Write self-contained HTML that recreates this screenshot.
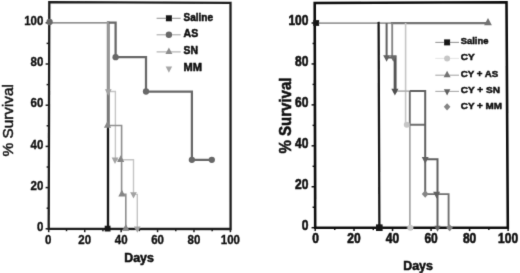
<!DOCTYPE html>
<html><head><meta charset="utf-8"><style>
html,body{margin:0;padding:0;background:#fff;}
body{width:520px;height:273px;overflow:hidden;}
svg{display:block;}
text{font-family:"Liberation Sans", sans-serif;font-weight:bold;fill:#0c0c0c;stroke:#0c0c0c;stroke-width:0.5px;paint-order:stroke;}
text.ns{font-weight:normal;stroke-width:0.45px;}
text.lt{stroke-width:0.3px;}
</style></head><body>
<svg width="520" height="273" viewBox="0 0 520 273">
<defs><filter id="bl" x="0" y="0" width="520" height="273" filterUnits="userSpaceOnUse"><feConvolveMatrix order="3" kernelMatrix="0.01134 0.08382 0.01134 0.08382 0.61935 0.08382 0.01134 0.08382 0.01134" edgeMode="none"/></filter></defs>
<rect width="520" height="273" fill="#fff"/>
<g filter="url(#bl)">
<path d="M49.3,2.2 L230.5,2.9 L230.6,229.0 L48.7,228.9 Z" fill="none" stroke="#1c1c1c" stroke-width="2.3" stroke-linejoin="miter"/>
<line x1="48.70" y1="228.8" x2="48.70" y2="232.20" stroke="#1c1c1c" stroke-width="1.5"/>
<line x1="66.51" y1="228.8" x2="66.51" y2="231.20" stroke="#1c1c1c" stroke-width="1.5"/>
<line x1="84.72" y1="228.8" x2="84.72" y2="232.20" stroke="#1c1c1c" stroke-width="1.5"/>
<line x1="102.93" y1="228.8" x2="102.93" y2="231.20" stroke="#1c1c1c" stroke-width="1.5"/>
<line x1="121.14" y1="228.8" x2="121.14" y2="232.20" stroke="#1c1c1c" stroke-width="1.5"/>
<line x1="139.35" y1="228.8" x2="139.35" y2="231.20" stroke="#1c1c1c" stroke-width="1.5"/>
<line x1="157.56" y1="228.8" x2="157.56" y2="232.20" stroke="#1c1c1c" stroke-width="1.5"/>
<line x1="175.77" y1="228.8" x2="175.77" y2="231.20" stroke="#1c1c1c" stroke-width="1.5"/>
<line x1="193.98" y1="228.8" x2="193.98" y2="232.20" stroke="#1c1c1c" stroke-width="1.5"/>
<line x1="212.19" y1="228.8" x2="212.19" y2="231.20" stroke="#1c1c1c" stroke-width="1.5"/>
<line x1="230.40" y1="228.8" x2="230.40" y2="232.20" stroke="#1c1c1c" stroke-width="1.5"/>
<line x1="49.0" y1="228.80" x2="45.60" y2="228.80" stroke="#1c1c1c" stroke-width="1.5"/>
<line x1="49.0" y1="208.20" x2="46.60" y2="208.20" stroke="#1c1c1c" stroke-width="1.5"/>
<line x1="49.0" y1="187.60" x2="45.60" y2="187.60" stroke="#1c1c1c" stroke-width="1.5"/>
<line x1="49.0" y1="167.00" x2="46.60" y2="167.00" stroke="#1c1c1c" stroke-width="1.5"/>
<line x1="49.0" y1="146.40" x2="45.60" y2="146.40" stroke="#1c1c1c" stroke-width="1.5"/>
<line x1="49.0" y1="125.80" x2="46.60" y2="125.80" stroke="#1c1c1c" stroke-width="1.5"/>
<line x1="49.0" y1="105.20" x2="45.60" y2="105.20" stroke="#1c1c1c" stroke-width="1.5"/>
<line x1="49.0" y1="84.60" x2="46.60" y2="84.60" stroke="#1c1c1c" stroke-width="1.5"/>
<line x1="49.0" y1="64.00" x2="45.60" y2="64.00" stroke="#1c1c1c" stroke-width="1.5"/>
<line x1="49.0" y1="43.40" x2="46.60" y2="43.40" stroke="#1c1c1c" stroke-width="1.5"/>
<line x1="49.0" y1="22.80" x2="45.60" y2="22.80" stroke="#1c1c1c" stroke-width="1.5"/>
<text transform="translate(48.30,244.40) scale(1,1.14)" class="lt" font-size="11.5" text-anchor="middle">0</text>
<text transform="translate(84.72,244.40) scale(1,1.14)" class="lt" font-size="11.5" text-anchor="middle">20</text>
<text transform="translate(121.14,244.40) scale(1,1.14)" class="lt" font-size="11.5" text-anchor="middle">40</text>
<text transform="translate(157.56,244.40) scale(1,1.14)" class="lt" font-size="11.5" text-anchor="middle">60</text>
<text transform="translate(193.98,244.40) scale(1,1.14)" class="lt" font-size="11.5" text-anchor="middle">80</text>
<text transform="translate(230.40,244.40) scale(1,1.14)" class="lt" font-size="11.5" text-anchor="middle">100</text>
<text transform="translate(43.40,230.90) scale(1,1.14)" class="lt" font-size="11.5" text-anchor="end">0</text>
<text transform="translate(43.40,189.70) scale(1,1.14)" class="lt" font-size="11.5" text-anchor="end">20</text>
<text transform="translate(43.40,148.50) scale(1,1.14)" class="lt" font-size="11.5" text-anchor="end">40</text>
<text transform="translate(43.40,107.30) scale(1,1.14)" class="lt" font-size="11.5" text-anchor="end">60</text>
<text transform="translate(43.40,66.10) scale(1,1.14)" class="lt" font-size="11.5" text-anchor="end">80</text>
<text transform="translate(43.40,24.90) scale(1,1.14)" class="lt" font-size="11.5" text-anchor="end">100</text>
<path d="M314.7,3.0 L506.5,2.2 L507.8,227.8 L315.2,227.8 Z" fill="none" stroke="#101010" stroke-width="2.6" stroke-linejoin="miter"/>
<line x1="315.20" y1="227.7" x2="315.20" y2="231.10" stroke="#101010" stroke-width="1.5"/>
<line x1="334.76" y1="227.7" x2="334.76" y2="230.10" stroke="#101010" stroke-width="1.5"/>
<line x1="354.02" y1="227.7" x2="354.02" y2="231.10" stroke="#101010" stroke-width="1.5"/>
<line x1="373.28" y1="227.7" x2="373.28" y2="230.10" stroke="#101010" stroke-width="1.5"/>
<line x1="392.54" y1="227.7" x2="392.54" y2="231.10" stroke="#101010" stroke-width="1.5"/>
<line x1="411.80" y1="227.7" x2="411.80" y2="230.10" stroke="#101010" stroke-width="1.5"/>
<line x1="431.06" y1="227.7" x2="431.06" y2="231.10" stroke="#101010" stroke-width="1.5"/>
<line x1="450.32" y1="227.7" x2="450.32" y2="230.10" stroke="#101010" stroke-width="1.5"/>
<line x1="469.58" y1="227.7" x2="469.58" y2="231.10" stroke="#101010" stroke-width="1.5"/>
<line x1="488.84" y1="227.7" x2="488.84" y2="230.10" stroke="#101010" stroke-width="1.5"/>
<line x1="508.10" y1="227.7" x2="508.10" y2="231.10" stroke="#101010" stroke-width="1.5"/>
<line x1="315.0" y1="227.70" x2="311.60" y2="227.70" stroke="#101010" stroke-width="1.5"/>
<line x1="315.0" y1="207.23" x2="312.60" y2="207.23" stroke="#101010" stroke-width="1.5"/>
<line x1="315.0" y1="186.76" x2="311.60" y2="186.76" stroke="#101010" stroke-width="1.5"/>
<line x1="315.0" y1="166.29" x2="312.60" y2="166.29" stroke="#101010" stroke-width="1.5"/>
<line x1="315.0" y1="145.82" x2="311.60" y2="145.82" stroke="#101010" stroke-width="1.5"/>
<line x1="315.0" y1="125.35" x2="312.60" y2="125.35" stroke="#101010" stroke-width="1.5"/>
<line x1="315.0" y1="104.88" x2="311.60" y2="104.88" stroke="#101010" stroke-width="1.5"/>
<line x1="315.0" y1="84.41" x2="312.60" y2="84.41" stroke="#101010" stroke-width="1.5"/>
<line x1="315.0" y1="63.94" x2="311.60" y2="63.94" stroke="#101010" stroke-width="1.5"/>
<line x1="315.0" y1="43.47" x2="312.60" y2="43.47" stroke="#101010" stroke-width="1.5"/>
<line x1="315.0" y1="23.00" x2="311.60" y2="23.00" stroke="#101010" stroke-width="1.5"/>
<text transform="translate(315.50,243.30) scale(1,1.18)" class="" font-size="12.0" text-anchor="middle">0</text>
<text transform="translate(354.02,243.30) scale(1,1.18)" class="" font-size="12.0" text-anchor="middle">20</text>
<text transform="translate(392.54,243.30) scale(1,1.18)" class="" font-size="12.0" text-anchor="middle">40</text>
<text transform="translate(431.06,243.30) scale(1,1.18)" class="" font-size="12.0" text-anchor="middle">60</text>
<text transform="translate(469.58,243.30) scale(1,1.18)" class="" font-size="12.0" text-anchor="middle">80</text>
<text transform="translate(508.10,243.30) scale(1,1.18)" class="" font-size="12.0" text-anchor="middle">100</text>
<text transform="translate(308.40,229.90) scale(1,1.18)" class="" font-size="12.0" text-anchor="end">0</text>
<text transform="translate(308.40,188.96) scale(1,1.18)" class="" font-size="12.0" text-anchor="end">20</text>
<text transform="translate(308.40,148.02) scale(1,1.18)" class="" font-size="12.0" text-anchor="end">40</text>
<text transform="translate(308.40,107.08) scale(1,1.18)" class="" font-size="12.0" text-anchor="end">60</text>
<text transform="translate(308.40,66.14) scale(1,1.18)" class="" font-size="12.0" text-anchor="end">80</text>
<text transform="translate(308.40,25.20) scale(1,1.18)" class="" font-size="12.0" text-anchor="end">100</text>
<line x1="108.0" y1="22.7" x2="108.0" y2="228.6" stroke="#141414" stroke-width="2.31" stroke-linecap="square"/>
<path d="M49,22.7 L108.8,22.7 L108.8,91.5 L115.4,91.5 L115.4,159.8 L133.5,159.8 L133.5,194.4 L137.3,194.4 L137.3,228.6" fill="none" stroke="#c4c4c4" stroke-width="1.38" stroke-linejoin="miter"/>
<path d="M49,22.7 L108.8,22.7 L108.8,125.5 L121.6,125.5 L121.6,194.4 L125.8,194.4 L125.8,228.6" fill="none" stroke="#909090" stroke-width="1.62" stroke-linejoin="miter"/>
<line x1="108.3" y1="22.7" x2="108.3" y2="91.5" stroke="#9a9a9a" stroke-width="2.5" stroke-linecap="square"/>
<line x1="108.3" y1="91.5" x2="108.3" y2="125.5" stroke="#7a7a7a" stroke-width="2.5" stroke-linecap="square"/>
<path d="M108.8,22.7 L115.6,22.7 L115.6,57.2 L146,57.2 L146,91.5 L191.9,91.5 L191.9,159.8 L211.8,159.8" fill="none" stroke="#686868" stroke-width="2.25" stroke-linejoin="miter"/>
<circle cx="49.60" cy="22.00" r="3.15" fill="#686868"/>
<circle cx="115.60" cy="57.20" r="3.15" fill="#686868"/>
<circle cx="146.00" cy="91.50" r="3.15" fill="#686868"/>
<circle cx="191.90" cy="159.80" r="3.15" fill="#686868"/>
<circle cx="211.80" cy="159.80" r="3.15" fill="#686868"/>
<path d="M107.50,120.88 L111.07,127.68 L103.93,127.68 Z" fill="#858585"/>
<path d="M120.70,155.18 L124.27,161.98 L117.13,161.98 Z" fill="#858585"/>
<path d="M121.90,189.78 L125.47,196.58 L118.33,196.58 Z" fill="#858585"/>
<path d="M125.80,223.98 L129.37,230.78 L122.23,230.78 Z" fill="#858585"/>
<path d="M108.30,95.72 L111.66,89.32 L104.94,89.32 Z" fill="#a2a2a2"/>
<path d="M115.00,164.02 L118.36,157.62 L111.64,157.62 Z" fill="#a2a2a2"/>
<path d="M133.50,198.62 L136.86,192.22 L130.14,192.22 Z" fill="#a2a2a2"/>
<path d="M137.30,232.82 L140.66,226.42 L133.94,226.42 Z" fill="#a2a2a2"/>
<rect x="104.70" y="225.70" width="5.8" height="5.8" fill="#141414"/>
<line x1="315.3" y1="23.0" x2="392" y2="23.0" stroke="#9a9a9a" stroke-width="1.75" stroke-linecap="square"/>
<line x1="392" y1="23.0" x2="488" y2="23.0" stroke="#747474" stroke-width="2.25" stroke-linecap="square"/>
<line x1="378.6" y1="23.0" x2="379.4" y2="227.7" stroke="#141414" stroke-width="2.25" stroke-linecap="square"/>
<path d="M405.6,23.0 L405.6,124.8 L409.8,124.8 L409.8,227.7" fill="none" stroke="#c6c6c6" stroke-width="1.62" stroke-linejoin="miter"/>
<line x1="409.8" y1="124.8" x2="409.8" y2="227.7" stroke="#a8a8a8" stroke-width="1.62" stroke-linecap="square"/>
<line x1="395.1" y1="91.1" x2="409.8" y2="91.1" stroke="#aaaaaa" stroke-width="1.5" stroke-linecap="square"/>
<path d="M392.2,23.0 L392.2,57.4" fill="none" stroke="#858585" stroke-width="1.88" stroke-linejoin="miter"/>
<path d="M409.8,91.1 L409.8,124.8 L425.2,124.8" fill="none" stroke="#6e6e6e" stroke-width="1.88" stroke-linejoin="miter"/>
<path d="M425.2,194.1 L448.6,194.1 L448.6,227.7" fill="none" stroke="#707070" stroke-width="1.88" stroke-linejoin="miter"/>
<path d="M386.6,23.0 L386.6,57.4 L395.1,57.4 L395.1,91.1" fill="none" stroke="#606060" stroke-width="2.0" stroke-linejoin="miter"/>
<line x1="395.1" y1="57.4" x2="395.1" y2="91.1" stroke="#555" stroke-width="2.88" stroke-linecap="square"/>
<path d="M409.8,91.1 L425.2,91.1 L425.2,159.3 L437.5,159.3 L437.5,227.7" fill="none" stroke="#606060" stroke-width="2.0" stroke-linejoin="miter"/>
<line x1="425.2" y1="159.3" x2="425.2" y2="194.1" stroke="#686868" stroke-width="2.0" stroke-linecap="square"/>
<rect x="313.30" y="20.10" width="5.8" height="5.8" fill="#141414"/>
<path d="M488.00,17.97 L491.88,25.37 L484.12,25.37 Z" fill="#727272"/>
<path d="M386.60,61.76 L390.06,55.16 L383.14,55.16 Z" fill="#606060"/>
<path d="M393.30,61.76 L396.76,55.16 L389.84,55.16 Z" fill="#6a6a6a"/>
<path d="M394.90,95.59 L398.47,88.79 L391.33,88.79 Z" fill="#505050"/>
<circle cx="406.80" cy="124.80" r="3.0" fill="#c6c6c6"/>
<path d="M425.20,163.66 L428.66,157.06 L421.74,157.06 Z" fill="#606060"/>
<path d="M425.20,190.36 L428.60,194.10 L425.20,197.84 L421.80,194.10 Z" fill="#858585"/>
<path d="M436.60,198.46 L440.06,191.86 L433.14,191.86 Z" fill="#606060"/>
<rect x="376.00" y="224.40" width="6.6" height="6.6" fill="#141414"/>
<circle cx="410.30" cy="227.70" r="3.0" fill="#c6c6c6"/>
<path d="M437.50,231.66 L440.65,225.66 L434.35,225.66 Z" fill="#606060"/>
<path d="M449.60,224.18 L452.80,227.70 L449.60,231.22 L446.40,227.70 Z" fill="#858585"/>
<line x1="156.6" y1="18.3" x2="180.7" y2="18.3" stroke="#999" stroke-width="1.1"/>
<rect x="165.90" y="15.30" width="6" height="6" fill="#141414"/>
<text x="183.6" y="20.50" font-size="10.2" textLength="29.4" lengthAdjust="spacingAndGlyphs">Saline</text>
<line x1="156.6" y1="34.8" x2="180.7" y2="34.8" stroke="#aaa" stroke-width="1.1"/>
<circle cx="168.90" cy="34.80" r="3.2" fill="#686868"/>
<text x="183.6" y="37.00" font-size="10.2" textLength="14.6" lengthAdjust="spacingAndGlyphs">AS</text>
<line x1="156.6" y1="51.9" x2="180.7" y2="51.9" stroke="#aaa" stroke-width="1.1"/>
<path d="M168.90,47.41 L172.37,54.01 L165.44,54.01 Z" fill="#8c8c8c"/>
<text x="183.6" y="54.10" font-size="10.2" textLength="14.4" lengthAdjust="spacingAndGlyphs">SN</text>
<path d="M168.90,72.69 L172.16,66.49 L165.65,66.49 Z" fill="#a6a6a6"/>
<text x="183.6" y="70.80" font-size="10.2" textLength="18.4" lengthAdjust="spacingAndGlyphs">MM</text>
<line x1="435.3" y1="42.4" x2="459.0" y2="42.4" stroke="#999" stroke-width="1.1"/>
<rect x="444.10" y="39.40" width="6" height="6" fill="#141414"/>
<text x="460.8" y="44.10" font-size="9.8" textLength="27.6" lengthAdjust="spacingAndGlyphs">Saline</text>
<line x1="435.3" y1="58.4" x2="459.0" y2="58.4" stroke="#e6e6e6" stroke-width="1.1"/>
<circle cx="447.10" cy="58.40" r="3.0" fill="#c6c6c6"/>
<text x="460.8" y="60.10" font-size="9.8" textLength="14.0" lengthAdjust="spacingAndGlyphs">CY</text>
<line x1="435.3" y1="75.2" x2="459.0" y2="75.2" stroke="#aaa" stroke-width="1.1"/>
<path d="M447.10,70.71 L450.56,77.31 L443.64,77.31 Z" fill="#727272"/>
<text x="460.8" y="76.90" font-size="9.8" textLength="37.4" lengthAdjust="spacingAndGlyphs">CY + AS</text>
<line x1="435.3" y1="91.4" x2="459.0" y2="91.4" stroke="#aaa" stroke-width="1.1"/>
<path d="M447.10,95.49 L450.36,89.29 L443.85,89.29 Z" fill="#606060"/>
<text x="460.8" y="93.10" font-size="9.8" textLength="39.2" lengthAdjust="spacingAndGlyphs">CY + SN</text>
<path d="M447.10,103.17 L450.40,106.80 L447.10,110.43 L443.80,106.80 Z" fill="#858585"/>
<text x="460.8" y="108.50" font-size="9.8" textLength="41.2" lengthAdjust="spacingAndGlyphs">CY + MM</text>
<text x="139" y="262.3" font-size="12.4" text-anchor="middle">Days</text>
<text x="418" y="269.8" font-size="12.4" text-anchor="middle">Days</text>
<text class="ns" transform="translate(13.2,120.3) rotate(-90)" font-size="15.3" text-anchor="middle">% Survival</text>
<text transform="translate(291.2,115.5) rotate(-90) scale(0.975,1.13)" font-size="15.4" text-anchor="middle">% Survival</text>
</g>
</svg>
</body></html>
